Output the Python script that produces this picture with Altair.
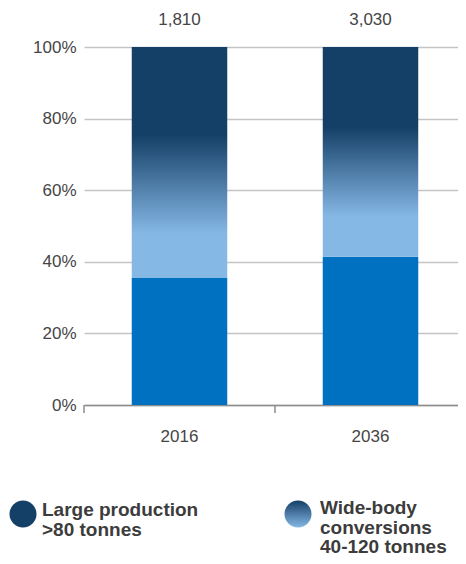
import altair as alt
import pandas as pd

years = ["2016", "2036"]
bottom_share = [35.5, 41.4]
top_share = [100, 100]
totals = [1810, 3030]
y_ticks = [0, 20, 40, 60, 80, 100]
legend_names = ["Large production\n>80 tonnes", "Wide-body\nconversions\n40-120 tonnes"]

DARK = "#143f66"
LIGHT = "#86b8e6"
BLUE = "#0070c0"
FONT = "Liberation Sans"
TXT = "#454545"

df = pd.DataFrame({
    "year": years,
    "bottom": bottom_share,
    "top": top_share,
    "total_label": [f"{t:,}" for t in totals],
})
leg_df = pd.DataFrame({"name": legend_names})

grad_bar = alt.Gradient(
    gradient="linear",
    stops=[
        alt.GradientStop(color=DARK, offset=0),
        alt.GradientStop(color=DARK, offset=0.38),
        alt.GradientStop(color=LIGHT, offset=0.81),
        alt.GradientStop(color=LIGHT, offset=1),
    ],
    x1=0, x2=0, y1=0, y2=1,
)
grad_dot = alt.Gradient(
    gradient="linear",
    stops=[
        alt.GradientStop(color=DARK, offset=0),
        alt.GradientStop(color=LIGHT, offset=1),
    ],
    x1=0, x2=0, y1=0, y2=1,
)

x_enc = alt.X(
    "year:N",
    scale=alt.Scale(paddingInner=0, paddingOuter=0, range=[0, 382]),
    axis=alt.Axis(
        title=None, labelAngle=0, ticks=False, domain=True,
        domainColor="#8c8c8c", domainWidth=1.5,
        labelFontSize=17, labelColor=TXT, labelPadding=23, labelFont=FONT,
    ),
)
y_scale = alt.Scale(domain=[0, 100])
y_axis = alt.Axis(
    title=None, values=y_ticks, labelExpr="datum.value + '%'",
    domain=False, ticks=False, grid=True, gridColor="#c4c4c4", gridWidth=1.5,
    labelPadding=8, labelFontSize=17, labelColor=TXT, labelFont=FONT,
)

base = alt.Chart(df)

bottom_bars = base.mark_bar(color=BLUE, width=alt.RelativeBandSize(0.5)).encode(
    x=x_enc,
    y=alt.Y("bottom:Q", scale=y_scale, axis=y_axis),
)
top_bars = base.mark_bar(color=grad_bar, width=alt.RelativeBandSize(0.5)).encode(
    x=alt.X("year:N"),
    y=alt.Y("bottom:Q"),
    y2="top:Q",
)
ticks = base.mark_rule(color="#8c8c8c", strokeWidth=1.5).encode(
    x=alt.X("year:N", bandPosition=0),
    y=alt.value(358),
    y2=alt.value(366),
)
total_text = base.mark_text(
    fontSize=17, color=TXT, font=FONT, baseline="alphabetic", dy=-22
).encode(
    x=alt.X("year:N"),
    y=alt.Y("top:Q"),
    text="total_label:N",
)

leg = alt.Chart(leg_df)
dot1 = leg.transform_filter(alt.datum.name == legend_names[0]).mark_point(
    filled=True, shape="circle", size=729, fill=DARK, opacity=1, strokeWidth=0
).encode(x=alt.value(-61), y=alt.value(467))
dot2 = leg.transform_filter(alt.datum.name == legend_names[1]).mark_point(
    filled=True, shape="circle", size=729, fill=grad_dot, opacity=1, strokeWidth=0
).encode(x=alt.value(214), y=alt.value(467))
txt_props = dict(
    align="left", baseline="alphabetic", fontSize=19, fontWeight="bold",
    color="#3c3c3c", font=FONT, lineBreak="\n", lineHeight=19.5,
)
t1 = leg.transform_filter(alt.datum.name == legend_names[0]).mark_text(**txt_props).encode(
    x=alt.value(-42), y=alt.value(469), text="name:N"
)
t2 = leg.transform_filter(alt.datum.name == legend_names[1]).mark_text(**txt_props).encode(
    x=alt.value(236), y=alt.value(467), text="name:N"
)

chart = alt.layer(
    bottom_bars, top_bars, ticks, total_text, dot1, dot2, t1, t2
).properties(
    width=374, height=358,
    autosize=alt.AutoSizeParams(type="none"),
    padding={"left": 76, "top": 39, "right": 0, "bottom": 151},
).configure_view(stroke=None)

chart.save("out.html", embed_options={"renderer": "svg", "actions": False})
